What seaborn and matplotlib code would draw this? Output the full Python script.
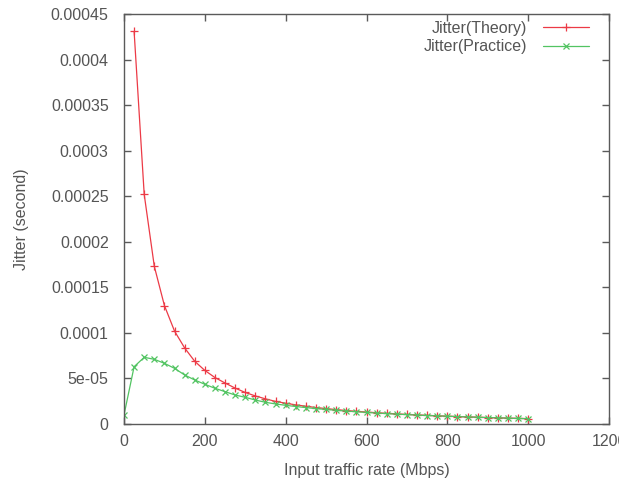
import numpy as np
import pandas as pd
import matplotlib
matplotlib.use('Agg')
import matplotlib.pyplot as plt
import seaborn as sns

# 입력 트래픽 (Mbps)
rate_theory = list(range(25, 1001, 25))
rate_practice = list(range(0, 1001, 25))

# Jitter (second) - 그림에서 읽은 값
jitter_theory = [
    0.000431, 0.000252, 0.000173, 0.000130, 0.000102, 0.0000835, 0.0000688, 0.0000588,
    0.0000510, 0.0000450, 0.0000394, 0.0000346, 0.0000308, 0.0000276, 0.0000248, 0.0000228,
    0.0000210, 0.0000195, 0.0000181, 0.0000169, 0.0000158, 0.0000148, 0.0000139, 0.0000131,
    0.0000124, 0.0000117, 0.0000111, 0.0000105, 0.0000100, 0.0000095, 0.0000090, 0.0000086,
    0.0000082, 0.0000078, 0.0000075, 0.0000071, 0.0000068, 0.0000065, 0.0000062, 0.0000059,
]
jitter_practice = [
    0.0000099, 0.0000629, 0.0000732, 0.0000710, 0.0000666, 0.0000611, 0.0000538, 0.0000483,
    0.0000436, 0.0000392, 0.0000355, 0.0000318, 0.0000293, 0.0000263, 0.0000238, 0.0000220,
    0.0000205, 0.0000192, 0.0000180, 0.0000169, 0.0000160, 0.0000150, 0.0000142, 0.0000134,
    0.0000127, 0.0000120, 0.0000114, 0.0000108, 0.0000103, 0.0000098, 0.0000093, 0.0000089,
    0.0000085, 0.0000081, 0.0000077, 0.0000074, 0.0000070, 0.0000067, 0.0000064, 0.0000061,
    0.0000058,
]

xticks = [0, 200, 400, 600, 800, 1000, 1200]
yticks = [0, 0.00005, 0.0001, 0.00015, 0.0002, 0.00025, 0.0003, 0.00035, 0.0004, 0.00045]
ytick_labels = ['0', '5e-05', '0.0001', '0.00015', '0.0002', '0.00025', '0.0003',
                '0.00035', '0.0004', '0.00045']

sns.set_style('ticks')
plt.rcParams['font.family'] = ['Liberation Sans', 'DejaVu Sans']

red = '#ec3a46'
green = '#52c462'
text_color = '#555555'
fs = 11.5

fig = plt.figure(figsize=(6.19, 4.83), dpi=100)
ax = fig.add_axes([124 / 619, 1 - 424 / 483, 485 / 619, 410 / 483])

df_t = pd.DataFrame({'rate': rate_theory, 'jitter': jitter_theory})
df_p = pd.DataFrame({'rate': rate_practice, 'jitter': jitter_practice})

sns.lineplot(ax=ax, data=df_t, x='rate', y='jitter', color=red, linewidth=0.9,
             marker='+', markersize=6, markeredgecolor=red, markeredgewidth=0.9,
             label='Jitter(Theory)')
sns.lineplot(ax=ax, data=df_p, x='rate', y='jitter', color=green, linewidth=0.9,
             marker='x', markersize=4.5, markeredgecolor=green, markeredgewidth=0.9,
             label='Jitter(Practice)')

ax.set_xlim(0, 1200)
ax.set_ylim(0, 0.00045)
ax.set_xticks(xticks)
ax.set_yticks(yticks)
ax.set_yticklabels(ytick_labels)

for side in ['top', 'right', 'bottom', 'left']:
    ax.spines[side].set_visible(True)
    ax.spines[side].set_color('#5a5a5a')
    ax.spines[side].set_linewidth(1.0)

ax.tick_params(direction='in', length=5, width=1.0, color='#5a5a5a',
               top=True, right=True, labelsize=fs, labelcolor=text_color)
ax.tick_params(axis='y', pad=11)
ax.tick_params(axis='x', pad=7)

ax.set_xlabel('Input traffic rate (Mbps)', fontsize=fs, color=text_color, labelpad=10)
ax.set_ylabel('Jitter (second)', fontsize=fs, color=text_color, labelpad=16)

leg = ax.legend(loc='upper right', bbox_to_anchor=(0.959, 0.983), frameon=False,
                markerfirst=False, handlelength=2.9, fontsize=fs,
                borderpad=0, borderaxespad=0,
                labelspacing=0.2, handletextpad=1.0)
for t in leg.get_texts():
    t.set_color(text_color)

fig.savefig('out.png', dpi=100)
